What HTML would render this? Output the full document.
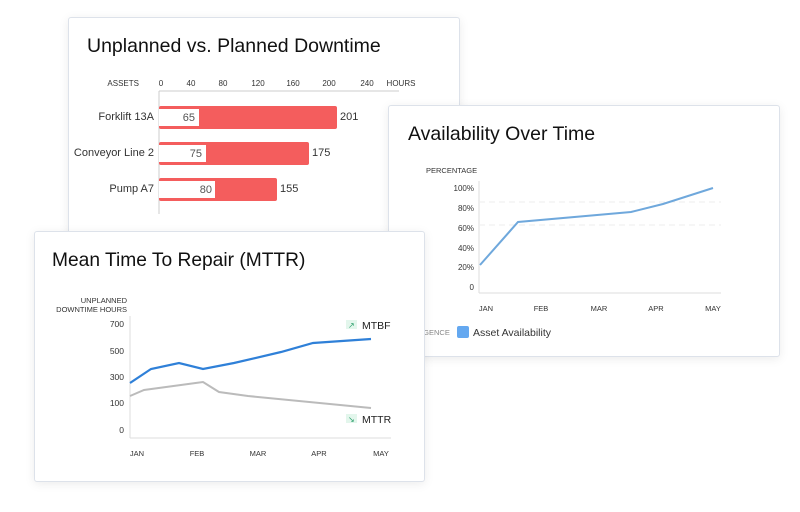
<!DOCTYPE html><html><head><style>
body{margin:0;width:800px;height:512px;background:#fff;position:relative;overflow:hidden;font-family:"Liberation Sans",sans-serif}
.card{position:absolute;background:#fff;border:1px solid #dde2ea;border-radius:3px;box-shadow:0 2px 10px rgba(0,0,0,.08)}
svg{position:absolute;left:0;top:0}
</style></head><body>
<div class="card" style="left:68px;top:17px;width:390px;height:240px">
<svg width="390" height="240" font-family="Liberation Sans">
<text x="18" y="34" font-size="19.5" fill="#111">Unplanned vs. Planned Downtime</text>
<g font-size="8" fill="#333" text-anchor="middle"><text x="70" y="68" text-anchor="end">ASSETS</text><text x="92" y="68">0</text><text x="122" y="68">40</text><text x="154" y="68">80</text><text x="189" y="68">120</text><text x="224" y="68">160</text><text x="260" y="68">200</text><text x="298" y="68">240</text><text x="332" y="68">HOURS</text></g>
<line x1="90" y1="73" x2="330" y2="73" stroke="#ccc"/><line x1="90" y1="73" x2="90" y2="196" stroke="#ccc"/>
<g font-size="11" fill="#333"><text x="85" y="102" text-anchor="end">Forklift 13A</text><text x="85" y="138" text-anchor="end">Conveyor Line 2</text><text x="85" y="174" text-anchor="end">Pump A7</text>
<rect x="90" y="88" width="178" height="23" rx="2" fill="#f45d5d"/><rect x="90" y="91" width="40" height="17" fill="#fff"/><text x="126" y="103" text-anchor="end" fill="#555">65</text><text x="271" y="102">201</text>
<rect x="90" y="124" width="150" height="23" rx="2" fill="#f45d5d"/><rect x="90" y="127" width="47" height="17" fill="#fff"/><text x="133" y="139" text-anchor="end" fill="#555">75</text><text x="243" y="138">175</text>
<rect x="90" y="160" width="118" height="23" rx="2" fill="#f45d5d"/><rect x="90" y="163" width="56" height="17" fill="#fff"/><text x="143" y="175" text-anchor="end" fill="#555">80</text><text x="211" y="174">155</text></g>
</svg></div>
<div class="card" style="left:388px;top:105px;width:390px;height:250px">
<svg width="390" height="250" font-family="Liberation Sans">
<text x="19" y="34" font-size="19.5" fill="#111">Availability Over Time</text>
<text x="37" y="67" font-size="7.5" fill="#333">PERCENTAGE</text>
<g font-size="8" fill="#333" text-anchor="end"><text x="85" y="85">100%</text><text x="85" y="105">80%</text><text x="85" y="125">60%</text><text x="85" y="145">40%</text><text x="85" y="164">20%</text><text x="85" y="184">0</text></g>
<line x1="90" y1="75" x2="90" y2="187" stroke="#ddd"/><line x1="90" y1="187" x2="332" y2="187" stroke="#ddd"/>
<line x1="90" y1="96" x2="332" y2="96" stroke="#eee" stroke-dasharray="6 4"/><line x1="90" y1="119" x2="332" y2="119" stroke="#eee" stroke-dasharray="6 4"/>
<polyline points="91,159 129,116 242,106 274,98 324,82" fill="none" stroke="#6fa8dc" stroke-width="2"/>
<g font-size="7.5" fill="#333" text-anchor="middle"><text x="97" y="205">JAN</text><text x="152" y="205">FEB</text><text x="210" y="205">MAR</text><text x="267" y="205">APR</text><text x="324" y="205">MAY</text></g>
<text x="25" y="229" font-size="7.5" fill="#888">LEGENCE</text>
<rect x="68" y="220" width="12" height="12" rx="2" fill="#64a8f0"/><text x="84" y="230" font-size="10.5" fill="#333">Asset Availability</text>
</svg></div>
<div class="card" style="left:34px;top:231px;width:389px;height:249px">
<svg width="389" height="249" font-family="Liberation Sans">
<text x="17" y="34" font-size="19.2" fill="#111">Mean Time To Repair (MTTR)</text>
<g font-size="7.5" fill="#333" text-anchor="end"><text x="92" y="71">UNPLANNED</text><text x="92" y="80">DOWNTIME HOURS</text></g>
<g font-size="8.5" fill="#333" text-anchor="end"><text x="89" y="95">700</text><text x="89" y="122">500</text><text x="89" y="148">300</text><text x="89" y="174">100</text><text x="89" y="201">0</text></g>
<line x1="95" y1="84" x2="95" y2="206" stroke="#ddd"/><line x1="95" y1="206" x2="356" y2="206" stroke="#ddd"/>
<polyline points="95,151 116,137 144,131 168,137 199,131 246,120 278,111 336,107" fill="none" stroke="#2f80d8" stroke-width="2.2"/>
<polyline points="95,164 109,158 168,150 184,160 213,164 336,176" fill="none" stroke="#bbb" stroke-width="2"/>
<rect x="311" y="88" width="11" height="9" fill="#e3f6ec"/><text x="313" y="96" font-size="8" fill="#2a9d6a">↗</text><text x="327" y="97" font-size="10.5" fill="#222">MTBF</text>
<rect x="311" y="182" width="11" height="9" fill="#e3f6ec"/><text x="313" y="190" font-size="8" fill="#2a9d6a">↘</text><text x="327" y="191" font-size="10.5" fill="#222">MTTR</text>
<g font-size="7.5" fill="#333" text-anchor="middle"><text x="102" y="224">JAN</text><text x="162" y="224">FEB</text><text x="223" y="224">MAR</text><text x="284" y="224">APR</text><text x="346" y="224">MAY</text></g>
</svg></div>
</body></html>
